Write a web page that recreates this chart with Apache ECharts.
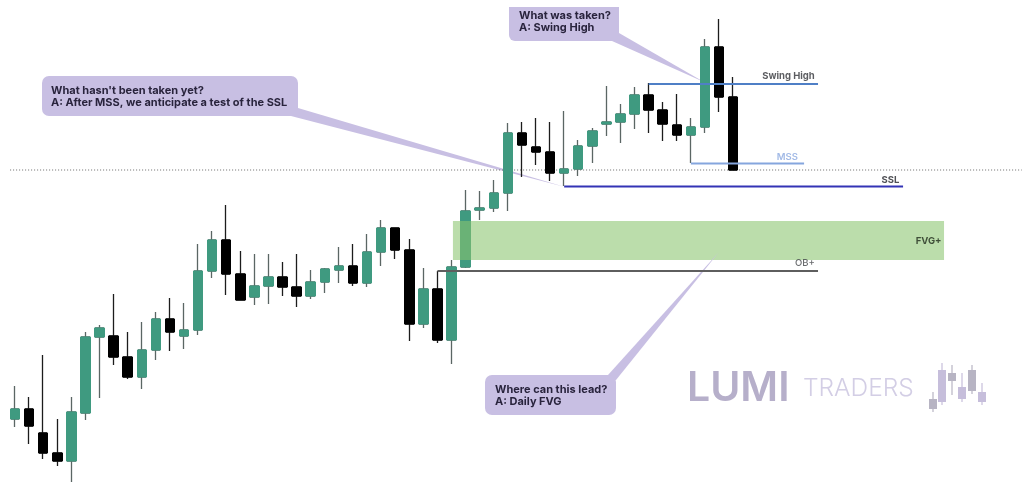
<!DOCTYPE html>
<html><head><meta charset="utf-8">
<style>html,body{margin:0;padding:0;background:#fff}#c{width:1024px;height:482px;filter:blur(0.45px)}</style>
<script src="https://cdn.jsdelivr.net/npm/echarts@6/dist/echarts.min.js"></script>
</head><body><div id="c"></div>
<script>
// Candles (price units)
const opens  = [63,73,49,29,21,69,145,146,125,105,132,163,146,152,211,242,208,185,196,205,195,186,200,212,216,199,230,254,232,158,193,142,215,272,274,289,349,335,330,309,313,336,358,360,368,387,372,357,347,355,435,385];
const closes = [73,56,29,21,70,145,154,125,105,132,163,150,152,211,242,208,182,196,205,195,186,200,213,216,199,230,254,232,158,193,142,215,271,274,289,349,337,330,309,313,336,351,360,368,387,372,358,347,355,435,385,312];
const lows   = [55,38,23,16,0,62,84,117,103,93,122,131,133,147,204,187,182,177,178,186,175,183,189,199,196,195,216,223,141,154,139,118,214,262,270,271,305,317,301,296,306,319,346,339,353,349,341,341,319,349,370,312];
const highs  = [96,85,127,63,85,150,157,188,150,160,170,184,179,238,251,277,231,228,228,220,228,212,214,235,238,248,262,254,243,214,211,222,292,291,302,359,360,364,360,371,342,354,396,378,395,399,380,388,364,443,463,405];
const barCount = 72; // slots on the time axis, including the empty room on the right
const bars = Array.from({length: barCount}, (_, i) => String(i + 1));

// Levels: [first bar, last bar, price]
const swingHigh = [45, 57.03, 398];
const mss       = [48, 56.04, 318.5];
const ssl       = [39, 63.07, 295.5];
const obPlus    = [30, 57.03, 211];
const session   = [-0.35, 71.5, 312];
const fvgZone   = [31.1, 65.98, 261, 222];

// Level labels: [anchor bar, price, text]
const levelLabels = [
  [56.8, 406, 'Swing High', '#33353a', 700, 9.5],
  [55.6, 325, 'MSS', '#8aa8e0', 600, 9.5],
  [62.8, 302, 'SSL', '#24262c', 700, 9.5],
  [65.8, 241, 'FVG+', '#1f2a1c', 700, 9.5],
  [56.8, 219, 'OB+', '#44464a', 500, 9.5]
];

const GREEN = '#3f9a80', BLACK = '#000000', WICK = '#5b6664';
const PURPLE = '#c8bfe3', INK = '#29243d';

function level(l, color, width, type, z) {
  return { type:'line', xAxisIndex:1, yAxisIndex:0, z:z, symbol:'none', silent:true,
    lineStyle:{color:color, width:width, type:type||'solid', cap:'butt'},
    data:[[l[0],l[2]],[l[1],l[2]]] };
}
function tail(pts, z) {
  return {type:'polygon', z:z, silent:true, shape:{points:pts}, style:{fill:PURPLE}};
}
function bubble(x,y,w,h,r,z) {
  return {type:'rect', z:z, silent:true, shape:{x:x,y:y,width:w,height:h,r:r}, style:{fill:PURPLE}};
}
function txt(x,y,s,z,opts) {
  return {type:'text', z:z, silent:true, x:x, y:y, style:Object.assign({text:s, fill:INK,
    font:'700 11px Inter', textVerticalAlign:'top', lineHeight:12.5}, opts||{})};
}
function miniCandle(x,wt,wb,bt,bb,c) {
  return [
    {type:'rect', z:1, silent:true, shape:{x:x-0.6,y:wt,width:1.2,height:wb-wt}, style:{fill:c}},
    {type:'rect', z:1, silent:true, shape:{x:x-4,y:bt,width:8,height:bb-bt}, style:{fill:c}}
  ];
}
const LOGO_G='#b7b4c3', LOGO_P='#c6bedb';

const chart = echarts.init(document.getElementById('c'), null, {renderer:'canvas'});
chart.setOption({
  animation:false,
  backgroundColor:'#ffffff',
  grid:{left:8, top:0, width:1013.76, height:482, containLabel:false},
  xAxis:[
    {type:'category', data:bars, show:false, boundaryGap:true},
    {type:'value', min:-0.5, max:barCount-0.5, show:false}
  ],
  yAxis:[{type:'value', min:0, max:482, show:false, splitLine:{show:false}}],
  series:[
    level(session,'#6b6b6b',1,[1,2],1),
    {type:'candlestick', z:2, xAxisIndex:0, yAxisIndex:0, barWidth:8, silent:true,
     itemStyle:{color:GREEN,color0:BLACK,borderColor:WICK,borderColor0:'#1c1c1c',borderWidth:1.3},
     data:opens.map((o,i)=>[o,closes[i],lows[i],highs[i]])},
    {type:'candlestick', z:2, xAxisIndex:0, yAxisIndex:0, barWidth:10, silent:true,
     itemStyle:{color:GREEN,color0:BLACK,borderColor:GREEN,borderColor0:BLACK,borderWidth:1},
     data:opens.map((o,i)=>[o,closes[i],Math.min(o,closes[i]),Math.max(o,closes[i])])},
    {type:'custom', z:3, xAxisIndex:1, yAxisIndex:0, silent:true, clip:false,
     data:[fvgZone],
     renderItem:function(p,api){
       const a=api.coord([api.value(0),api.value(2)]), b=api.coord([api.value(1),api.value(3)]);
       return {type:'rect',shape:{x:a[0],y:a[1],width:b[0]-a[0],height:b[1]-a[1]},
               style:{fill:'rgba(137,197,110,0.58)'}};
     }},
    level(obPlus,'#5e5e5e',2,null,5),
    level(ssl,'#3333b5',2,null,5),
    level(swingHigh,'#4f7fc6',2,null,5),
    level(mss,'#85a6de',2,null,5),
    {type:'scatter', z:7, xAxisIndex:1, yAxisIndex:0, symbolSize:0, silent:true,
     data:levelLabels.map(l=>({value:[l[0],l[1]],
       label:{show:true,position:'left',distance:0,formatter:l[2],color:l[3],fontWeight:l[4],
              fontFamily:'Inter',fontSize:l[5]}}))}
  ],
  graphic:{elements:[
    tail([[298,108],[565,187],[291,116],[290,108]],1),
    tail([[619,33],[704,82],[612,41],[610,33]],1),
    tail([[608,375],[719,252],[616,380],[608,382]],4),
    bubble(42,76,256,40,7,6),
    {type:'rect', z:6, silent:true, shape:{x:509,y:7,width:110,height:34,r:[0,0,6,6]}, style:{fill:PURPLE}},
    bubble(485,375,131,40,7,6),
    txt(51,84,"What hasn't been taken yet?\nA: After MSS, we anticipate a test of the SSL",8),
    txt(519,9,"What was taken?\nA: Swing High",8),
    txt(495,383,"Where can this lead?\nA: Daily FVG",8),
    {type:'text', z:1, silent:true, x:687, y:368, style:{text:'LUMI', fill:'#b6afca', font:'600 41px Inter', textVerticalAlign:'top'}},
    {type:'text', z:1, silent:true, x:803, y:376, style:{text:'TRADERS', fill:'#d3cee5', font:'300 24.5px Inter', textVerticalAlign:'top'}},
    ...miniCandle(933,392,412,399,409,LOGO_G),
    ...miniCandle(942,363,405,370,402,LOGO_P),
    ...miniCandle(952,365,395,373,381,LOGO_G),
    ...miniCandle(962,373,402,387,399,LOGO_P),
    ...miniCandle(972,365,394,370,391,LOGO_G),
    ...miniCandle(982,383,405,392,402,LOGO_P)
  ]}
});
</script></body></html>
